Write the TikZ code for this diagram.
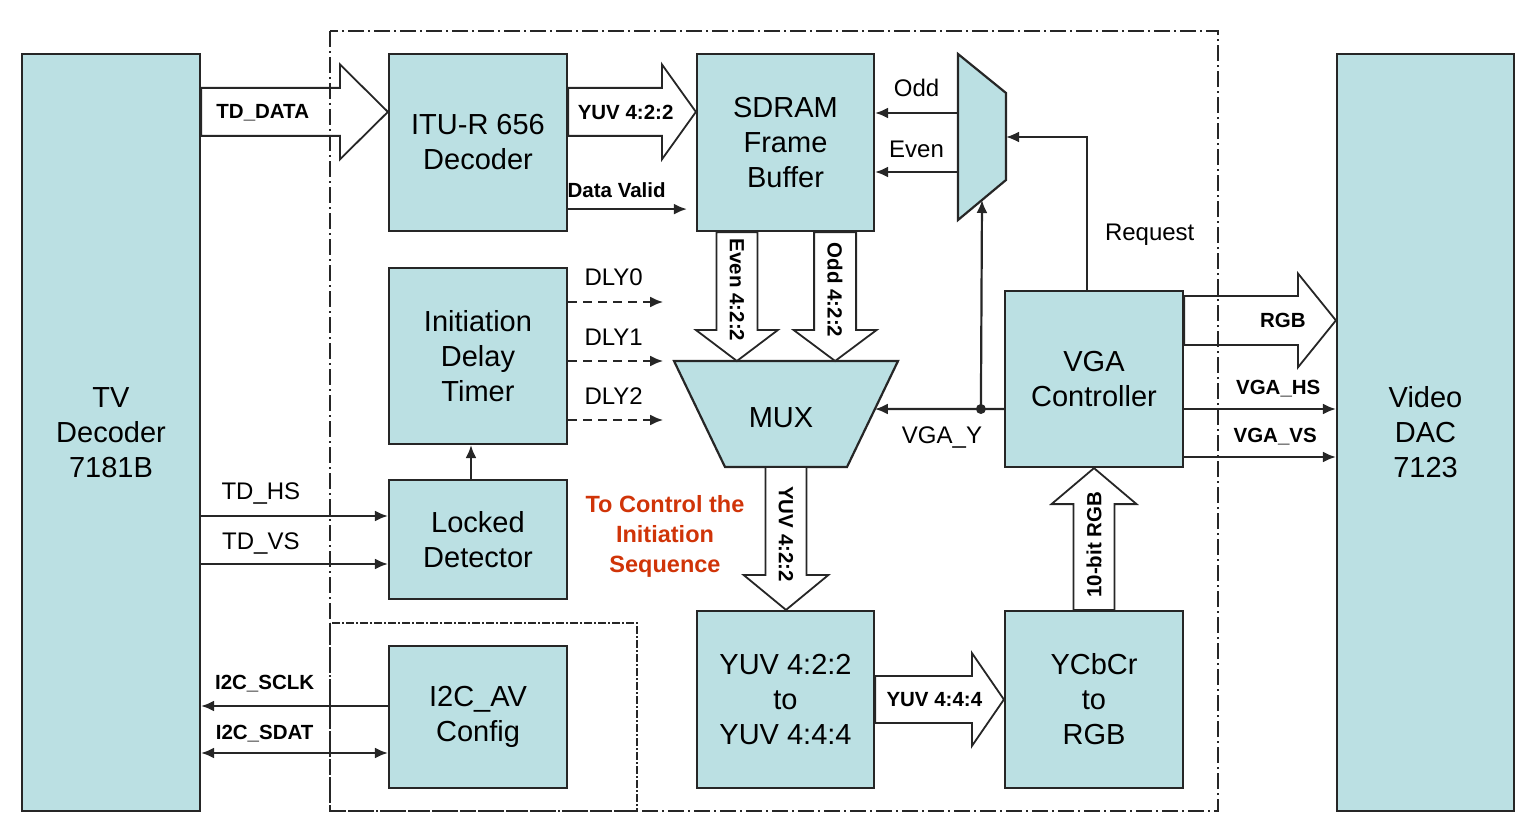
\documentclass[tikz,border=0pt]{standalone}
\usepackage{fontspec}
\setmainfont{Liberation Sans}
\usetikzlibrary{arrows.meta,calc,positioning}
\definecolor{boxfill}{RGB}{187,224,227}
\definecolor{ctlred}{RGB}{208,52,8}
\begin{document}
\begin{tikzpicture}[
  x=1pt, y=-1pt,
  box/.style={draw=black!85, line width=2.2pt, fill=boxfill, align=center,
    font=\fontsize{29}{35}\selectfont, inner sep=0pt},
  fat/.style={draw=black!85, line width=1.8pt, fill=white},
  flow/.style={font=\bfseries\fontsize{20.5}{24}\selectfont, inner sep=1pt, text depth=0pt},
  lbl/.style={font=\fontsize{24}{28}\selectfont, inner sep=2pt, text depth=0pt},
  sig/.style={draw=black!85, line width=2.2pt, -{Latex[length=13pt,width=11pt]}},
  bisig/.style={sig, {Latex[length=13pt,width=11pt]}-{Latex[length=13pt,width=11pt]}},
  dly/.style={sig, dash pattern=on 9pt off 6pt},
  bound/.style={draw=black!85, line width=2pt, dash pattern=on 16pt off 4pt on 2pt off 4pt},
  sub/.style={draw=black!85, line width=1.5pt, dash pattern=on 8pt off 2pt on 2pt off 2pt},
  note/.style={text=ctlred, align=center, font=\bfseries\fontsize{23.5}{30}\selectfont}
]
\useasboundingbox (0,0) rectangle (1539,840);
\foreach \nm/\cx/\cy/\bw/\bh/\txt in {
  tv/111/432.5/178/757/{TV\\Decoder\\7181B},
  dac/1425.5/432.5/177/757/{Video\\DAC\\7123},
  itu/478/142.5/178/177/{ITU-R 656\\Decoder},
  sdram/785.5/142.5/177/177/{SDRAM\\Frame\\Buffer},
  idt/478/356/178/176/{Initiation\\Delay\\Timer},
  lock/478/539.5/178/119/{Locked\\Detector},
  i2c/478/717/178/142/{I2C\_AV\\Config},
  conv/785.5/699.5/177/177/{YUV 4:2:2\\to\\YUV 4:4:4},
  csc/1094/699.5/178/177/{YCbCr\\to\\RGB},
  vga/1094/379/178/176/{VGA\\Controller}}
  \node[box, minimum width=\bw, minimum height=\bh] (\nm) at (\cx,\cy) {\txt};

\coordinate (mux-nw) at (674,361);
\coordinate (mux-ne) at (898,361);
\coordinate (mux-se) at (847,467);
\coordinate (mux-sw) at (725,467);
\draw[box] (mux-nw) -- (mux-ne) -- (mux-se) -- (mux-sw) -- cycle;
\node[font=\fontsize{29}{35}\selectfont] (mux) at (781,418) {MUX};

\coordinate (sel-nw) at (958,54);
\coordinate (sel-ne) at (1006,93);
\coordinate (sel-se) at (1006,180);
\coordinate (sel-sw) at (958,220);
\draw[box] (sel-nw) -- (sel-ne) -- (sel-se) -- (sel-sw) -- cycle;

\coordinate (tdd-a) at ($(tv.north east)+(0,59)$);
\coordinate (tdd-b) at (itu.west |- tdd-a);
\coordinate (yuv-a) at ($(itu.north east)+(0,59)$);
\coordinate (yuv-b) at (sdram.west |- yuv-a);
\coordinate (evn-a) at ($(sdram.south west)+(41,0)$);
\coordinate (evn-b) at (evn-a |- mux-nw);
\coordinate (odd-a) at ($(sdram.south east)+(-40,0)$);
\coordinate (odd-b) at (odd-a |- mux-nw);
\coordinate (mxo-a) at ($(mux-sw)!.5!(mux-se)$);
\coordinate (mxo-b) at (mxo-a |- conv.north);
\coordinate (rgb-a) at ($(vga.north east)+(0,30.5)$);
\coordinate (rgb-b) at (dac.west |- rgb-a);
\foreach \src/\dst/\sw/\hw/\hl/\lp/\txt in {
  tdd-a/tdd-b/24pt/47.5pt/48pt/.33/TD\_DATA,
  yuv-a/yuv-b/24pt/47.5pt/34pt/.45/YUV 4:2:2,
  evn-a/evn-b/20.5pt/41pt/31pt/.45/Even 4:2:2,
  odd-a/odd-b/21pt/41.5pt/31pt/.45/Odd 4:2:2,
  mxo-a/mxo-b/20.5pt/42.5pt/35pt/.47/YUV 4:2:2,
  conv.east/csc.west/23.5pt/46.5pt/32pt/.46/YUV 4:4:4,
  csc.north/vga.south/20.5pt/42.5pt/36pt/.46/10-bit RGB,
  rgb-a/rgb-b/24.5pt/47pt/38pt/.65/RGB}{
  \draw[fat] ($(\src)!\sw!90:(\dst)$) -- ($(\dst)!\hl!(\src)!\sw!90:(\dst)$)
    -- ($(\dst)!\hl!(\src)!\hw!90:(\dst)$) -- (\dst)
    -- ($(\dst)!\hl!(\src)!\hw!-90:(\dst)$) -- ($(\dst)!\hl!(\src)!\sw!-90:(\dst)$)
    -- ($(\src)!\sw!-90:(\dst)$) -- cycle;
  \path (\src) -- node[flow, pos=\lp, sloped, allow upside down] {\txt} (\dst);
}

\coordinate (dv) at ($(itu.south east)+(0,-23)$);
\draw[sig, shorten >=9pt] (dv) -- node[flow, above=10pt, pos=.38] {Data Valid} (sdram.west |- dv);

\foreach \dy/\txt/\up in {59/Odd/13pt, 118/Even/11pt}{
  \coordinate (s\txt) at ($(sel-nw)+(0,\dy)$);
  \draw[sig] (s\txt) -- node[lbl, above=\up] {\txt} (sdram.east |- s\txt);
}
\coordinate (rq) at ($(vga.north west)+(83,0)$);
\draw[sig] (rq) |- node[lbl, right=15pt, pos=.19] {Request} ($(sel-ne)+(0,44)$);

\coordinate (vy) at ($(vga.west)+(0,30)$);
\coordinate (vyj) at ($(vy)+(-23,0)$);
\draw[sig] (vy) -- node[lbl, below=15pt, pos=.48] {VGA\_Y} ($(mux-ne)!.453!(mux-se)$);
\draw[sig] (vyj) -- ($(sel-sw)!.5!(sel-se)$);
\fill[black!85] (vyj) circle[radius=5];

\foreach \i/\dy/\up in {0/-54/13pt, 1/5/12pt, 2/64/12pt}{
  \coordinate (dly\i) at ($(idt.east)+(95,\dy)$);
  \draw[dly] (idt.east |- dly\i) -- node[lbl, above=\up, pos=.48] {DLY\i} (dly\i);
}
\coordinate (lk) at ($(lock.north)+(-7,0)$);
\draw[sig] (lk) -- (lk |- idt.south);

\foreach \dy/\txt/\up in {-23.5/TD\_HS/13pt, 24.5/TD\_VS/11pt}{
  \coordinate (hs) at ($(lock.west)+(0,\dy)$);
  \draw[sig] (tv.east |- hs) -- node[lbl, above=\up, pos=.32] {\txt} (hs);
}
\coordinate (scl) at ($(i2c.west)+(0,-11)$);
\coordinate (sda) at ($(i2c.west)+(0,36)$);
\draw[sig] (scl) -- node[flow, above=14pt, pos=.66] {I2C\_SCLK} (tv.east |- scl);
\draw[bisig] (tv.east |- sda) -- node[flow, above=11pt, pos=.34] {I2C\_SDAT} (sda);

\foreach \dy/\txt/\lp in {30/VGA\_HS/.62, 78/VGA\_VS/.6}{
  \coordinate (vs) at ($(vga.east)+(0,\dy)$);
  \draw[sig] (vs) -- node[flow, above=12pt, pos=\lp] {\txt} (dac.west |- vs);
}

\node[note] (ctl) at (665,536) {To Control the\\Initiation\\Sequence};

\draw[bound] (330,31) rectangle (1218,811);
\draw[sub] (330,623) rectangle (637,811);
\end{tikzpicture}
\end{document}
